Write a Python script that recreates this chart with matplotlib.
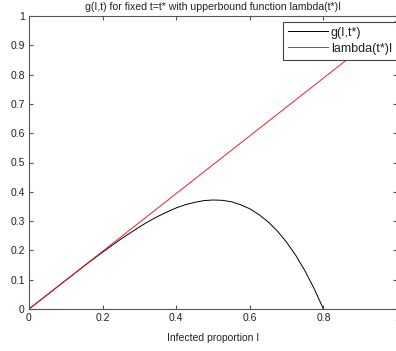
import matplotlib
matplotlib.use("Agg")
import matplotlib.pyplot as plt

# values
infected = [0, 0.05, 0.1, 0.15, 0.2, 0.25, 0.3, 0.325, 0.35, 0.375, 0.4, 0.425,
            0.45, 0.475, 0.5, 0.525, 0.55, 0.575, 0.6, 0.625, 0.65, 0.675, 0.7,
            0.725, 0.75, 0.775, 0.8]
g_values = [0, 0.049, 0.098, 0.147, 0.194, 0.239, 0.280, 0.299, 0.316, 0.331,
            0.345, 0.356, 0.364, 0.370, 0.372, 0.371, 0.366, 0.356, 0.342,
            0.322, 0.297, 0.266, 0.228, 0.183, 0.130, 0.069, 0]
bound_x = [0, 1]
bound_y = [0, 0.985]

x_ticks = [0, 0.2, 0.4, 0.6, 0.8, 1]
x_labels = ["0", "0.2", "0.4", "0.6", "0.8", "1"]
y_ticks = [0, 0.1, 0.2, 0.3, 0.4, 0.5, 0.6, 0.7, 0.8, 0.9, 1]
y_labels = ["0", "0.1", "0.2", "0.3", "0.4", "0.5", "0.6", "0.7", "0.8", "0.9", "1"]

plt.rcParams['font.family'] = ['Liberation Sans', 'DejaVu Sans']
plt.rcParams['font.size'] = 7.5

fig = plt.figure(figsize=(3.96, 3.51), dpi=100)
fig.patch.set_facecolor('white')
ax = fig.add_axes([29 / 396, 1 - 309 / 351, 368 / 396, 293 / 351])

ax.plot(infected, g_values, color='black', linewidth=0.7, label='g(I,t*)')
ax.plot(bound_x, bound_y, color='#e8202a', linewidth=0.7, label='lambda(t*)I')

ax.set_xlim(0, 1)
ax.set_ylim(0, 1)
ax.set_xticks(x_ticks)
ax.set_xticklabels(x_labels)
ax.set_yticks(y_ticks)
ax.set_yticklabels(y_labels)
ax.tick_params(direction='in', length=3, width=0.8, colors='#555555',
               labelcolor='#222222', top=True, right=True, pad=3)
for spine in ax.spines.values():
    spine.set_color('#555555')
    spine.set_linewidth(0.8)

ax.set_title('g(I,t) for fixed t=t* with upperbound function lambda(t*)I',
             fontsize=7.6, pad=4, color='#222222')
ax.set_xlabel('Infected proportion I', labelpad=7, color='#222222')

leg = ax.legend(loc='upper right', bbox_to_anchor=(1.0, 0.98), fancybox=False,
                framealpha=1, edgecolor='#444444', borderpad=0.4,
                handlelength=3.2, handletextpad=0.2, labelspacing=0.3,
                borderaxespad=0.0, prop={'size': 9})
leg.get_frame().set_linewidth(0.8)
for t in leg.get_texts():
    t.set_color('#222222')

plt.savefig('out.png', dpi=100, facecolor='white')
